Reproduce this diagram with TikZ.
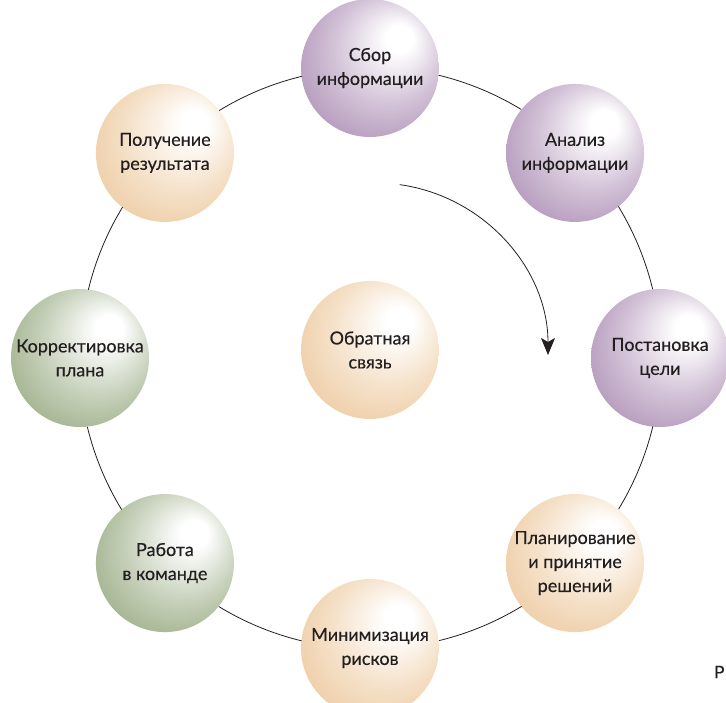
\documentclass[tikz,border=0pt]{standalone}
\usepackage{fontspec}
\setmainfont{Lato}[FakeBold=0.35]
\usetikzlibrary{arrows.meta,positioning}

\definecolor{lilac}{RGB}{156,120,166}
\definecolor{peach}{RGB}{233,190,138}
\definecolor{sage}{RGB}{132,154,106}
\definecolor{inkgray}{RGB}{35,31,32}

% highlight sits up and to the right of each ball
\pgfdeclareradialshading{lilacball}{\pgfpoint{12bp}{12bp}}{color(0bp)=(white); color(5bp)=(white);
  color(20bp)=(lilac!45!white); color(34bp)=(lilac!80!white); color(45bp)=(lilac)}
\pgfdeclareradialshading{peachball}{\pgfpoint{12bp}{12bp}}{color(0bp)=(white); color(5bp)=(white);
  color(20bp)=(peach!45!white); color(34bp)=(peach!80!white); color(45bp)=(peach)}
\pgfdeclareradialshading{sageball}{\pgfpoint{12bp}{12bp}}{color(0bp)=(white); color(5bp)=(white);
  color(20bp)=(sage!45!white); color(34bp)=(sage!80!white); color(45bp)=(sage)}

\begin{document}
\begin{tikzpicture}[x=1pt, y=1pt,
    line cap=round, line join=round,
    stage/.style={circle, minimum size=2*\R pt, inner sep=0pt, outer sep=0pt,
      align=center, text=inkgray, font=\fontsize{18}{24}\selectfont},
    lilac stage/.style={stage, shading=lilacball},
    peach stage/.style={stage, shading=peachball},
    sage stage/.style={stage, shading=sageball},
    link/.style={inkgray, line width=0.8pt},
    cycle arrow/.style={link, -{Stealth[length=17pt, width=14pt, inset=4pt]}}]
\def\R{69}   % ball radius
\def\Rc{290} % ring radius
\pgfmathsetmacro\gap{2*asin(\R/(2*\Rc))}

\useasboundingbox (-370,-344) rectangle (356,358);

% STAGES ON THE RING
\node[lilac stage] (sbor)   at (90:\Rc)   {Сбор\\информации};
\node[lilac stage] (analiz) at (45:\Rc)   {Анализ\\информации};
\node[lilac stage] (cel)    at (0:\Rc)    {Постановка\\цели};
\node[peach stage] (plan)   at (-45:\Rc)  {Планирование\\и принятие\\решений};
\node[peach stage] (risk)   at (-90:\Rc)  {Минимизация\\рисков};
\node[sage stage]  (team)   at (-135:\Rc) {Работа\\в команде};
\node[sage stage]  (korr)   at (180:\Rc)  {Корректировка\\плана};
\node[peach stage] (result) at (135:\Rc)  {Получение\\результата};

% CENTRE
\node[peach stage] (feedback) at (0,8) {Обратная\\связь};

% RING SEGMENTS
\foreach \from/\ang in {sbor/90, analiz/45, cel/0, plan/-45,
                        risk/-90, team/-135, korr/180, result/135}
  \draw[link] (\from.{\ang-90-\gap/2})
    arc[start angle=\ang-\gap, end angle=\ang-45+\gap, radius=\Rc];

% CLOCKWISE ARROW
\coordinate (turn) at ([shift={(6,3)}]82:172);
\draw[cycle arrow] (turn) arc[start angle=82, end angle=0, radius=172];

% cut-off caption
\node[anchor=base west, inner sep=0pt, font=\fontsize{17}{17}\selectfont, text=inkgray]
  (caption) at (344,-320) {Р};
\end{tikzpicture}
\end{document}
